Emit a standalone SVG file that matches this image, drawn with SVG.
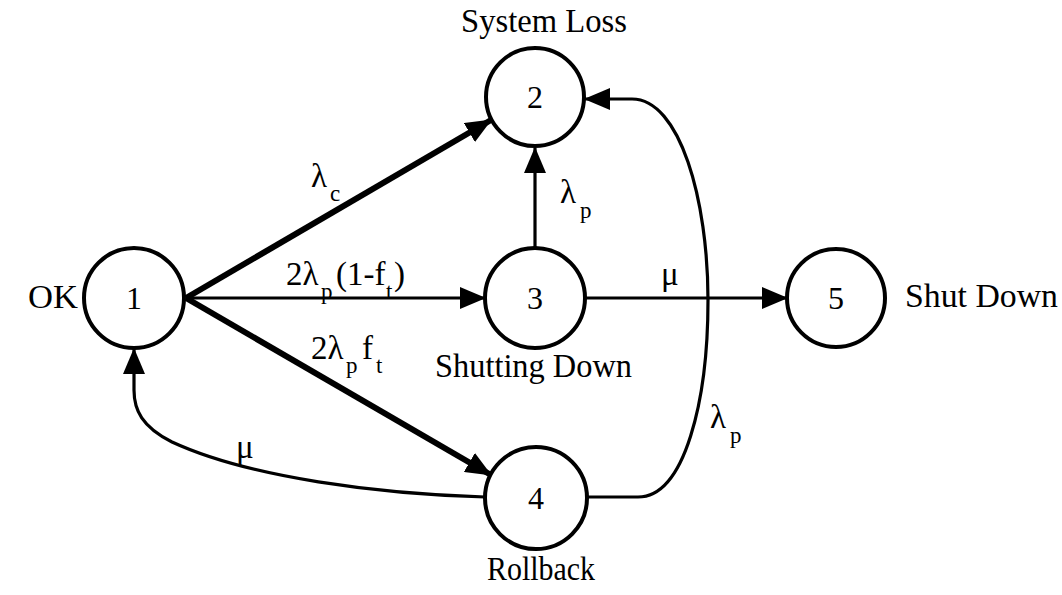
<svg xmlns="http://www.w3.org/2000/svg" width="1062" height="595" viewBox="0 0 1062 595">
  <style>
    .node { fill: #fff; stroke: #000; stroke-width: 4; }
    .num { font-family: "Liberation Serif", "Times New Roman", serif; font-size: 32px; text-anchor: middle; fill: #000; }
    .lbl { font-family: "Liberation Serif", "Times New Roman", serif; font-size: 33px; fill: #000; }
    .rate { font-family: "Liberation Serif", "Times New Roman", serif; font-size: 33px; fill: #000; }
    .sub { font-size: 23px; }
    .edge { fill: none; stroke: #000; stroke-linecap: butt; stroke-linejoin: round; }
    .thick { stroke-width: 6; }
    .thin { stroke-width: 3.2; }
  </style>
  <defs>
    <marker id="arrow" markerUnits="userSpaceOnUse" markerWidth="26" markerHeight="22" refX="25" refY="11" orient="auto">
      <path d="M0,0 L26,11 L0,22 Z" fill="#000"/>
    </marker>
  </defs>
  <rect width="1062" height="595" fill="#fff"/>

  <!-- connectors -->
  <g id="connectors">
    <path class="edge thick" d="M186 298 L491 120" marker-end="url(#arrow)"/>
    <path class="edge thin" d="M186 298 L485 298" marker-end="url(#arrow)"/>
    <path class="edge thick" d="M186 298 L491 475" marker-end="url(#arrow)"/>
    <path class="edge thin" d="M535 248 L535 148" marker-end="url(#arrow)"/>
    <path class="edge thin" d="M586 298 L787 298" marker-end="url(#arrow)"/>
    <path class="edge thin" d="M485 497 C380 494 250 478 172 442 C142 427 134 410 134 390 L134 349" marker-end="url(#arrow)"/>
    <path class="edge thin" d="M586 497 L638 497 C685 497 708 400 708 300 C708 200 680 99 632 99 L585 99" marker-end="url(#arrow)"/>
  </g>

  <!-- rate labels -->
  <g id="rates">
    <text class="rate"><tspan x="311" y="187">λ</tspan><tspan class="sub" x="330" y="201">c</tspan></text>
    <text class="rate"><tspan x="286" y="285">2λ</tspan><tspan class="sub" x="321" y="299">p</tspan><tspan x="336" y="285">(1-f</tspan><tspan class="sub" x="386" y="299">t</tspan><tspan x="394" y="285">)</tspan></text>
    <text class="rate"><tspan x="311" y="359">2λ</tspan><tspan class="sub" x="346" y="373">p</tspan><tspan x="362" y="359">f</tspan><tspan class="sub" x="376" y="373">t</tspan></text>
    <text class="rate"><tspan x="560" y="203">λ</tspan><tspan class="sub" x="580" y="218">p</tspan></text>
    <text class="rate"><tspan x="710" y="428">λ</tspan><tspan class="sub" x="730" y="443">p</tspan></text>
    <text class="rate" x="661" y="285">μ</text>
    <text class="rate" x="236" y="458">μ</text>
  </g>

  <!-- states -->
  <g id="node1">
    <circle class="node" cx="134" cy="298" r="50"/>
    <text class="num" x="134" y="309">1</text>
    <text class="lbl" x="28" y="308" textLength="50" lengthAdjust="spacingAndGlyphs">OK</text>
  </g>
  <g id="node2">
    <circle class="node" cx="535" cy="97" r="49"/>
    <text class="num" x="535" y="108">2</text>
    <text class="lbl" x="461" y="32" textLength="166" lengthAdjust="spacingAndGlyphs">System Loss</text>
  </g>
  <g id="node3">
    <circle class="node" cx="535" cy="298" r="50"/>
    <text class="num" x="535" y="309">3</text>
    <text class="lbl" x="435" y="377" textLength="197" lengthAdjust="spacingAndGlyphs">Shutting Down</text>
  </g>
  <g id="node4">
    <circle class="node" cx="536" cy="498" r="51"/>
    <text class="num" x="536" y="509">4</text>
    <text class="lbl" x="487" y="580" textLength="108" lengthAdjust="spacingAndGlyphs">Rollback</text>
  </g>
  <g id="node5">
    <circle class="node" cx="836" cy="298" r="49"/>
    <text class="num" x="836" y="309">5</text>
    <text class="lbl" x="905" y="307" textLength="153" lengthAdjust="spacingAndGlyphs">Shut Down</text>
  </g>
</svg>
